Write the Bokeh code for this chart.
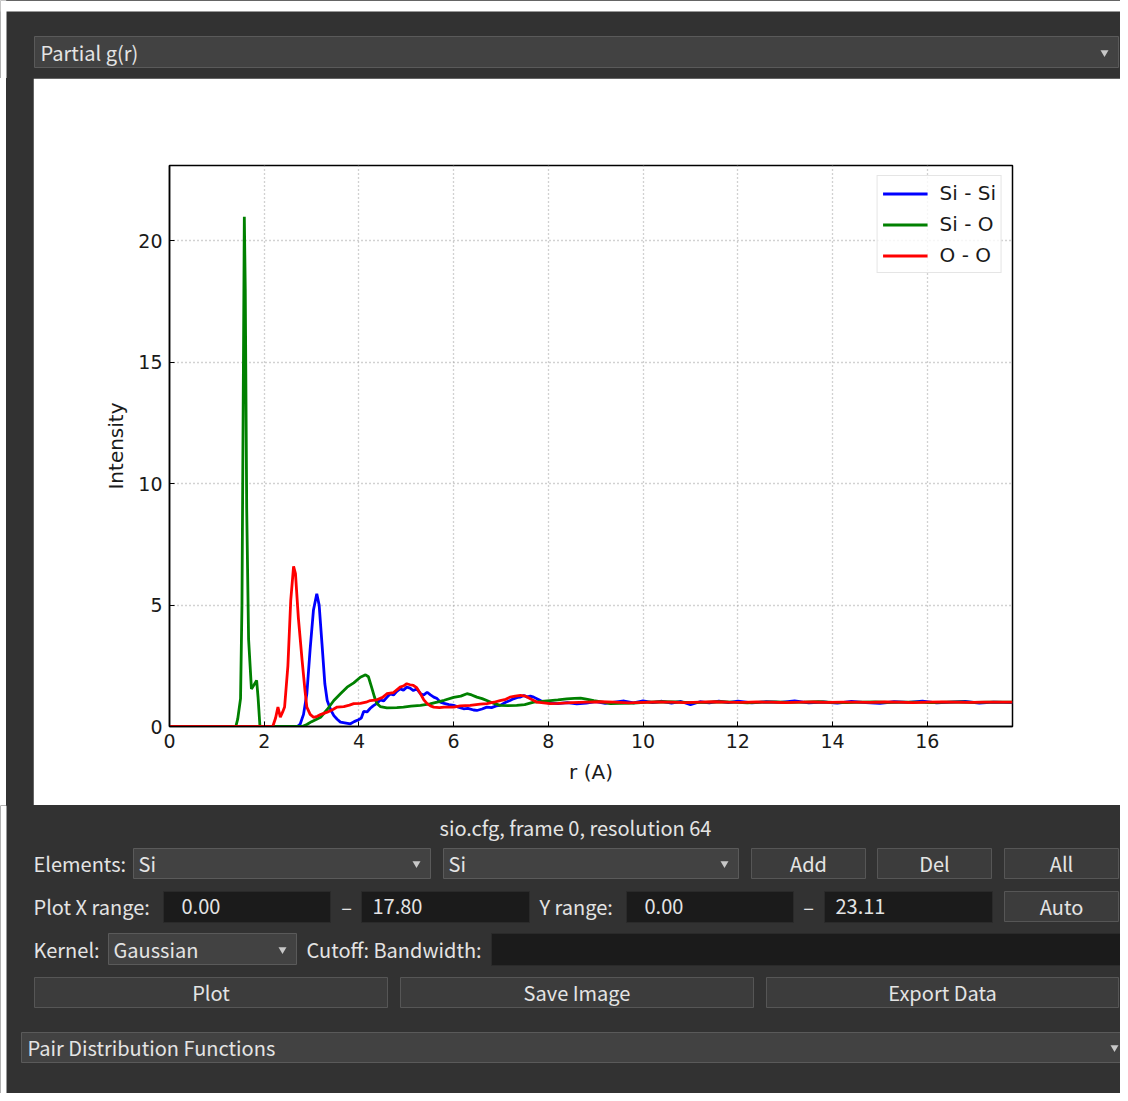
from bokeh.plotting import figure
from bokeh.layouts import column, row
from bokeh.models import Range1d, Legend, LegendItem
from bokeh.core.properties import value
from bokeh.embed import file_html
from bokeh.resources import INLINE

# ---------------- chart data ----------------
series_names = ["Si - Si", "Si - O", "O - O"]

r_sisi = [0, 2.70, 2.76, 2.83, 2.90, 2.97, 3.04, 3.11, 3.16, 3.22, 3.28, 3.33, 3.40, 3.47, 3.54,
          3.61, 3.70, 3.82, 3.90, 3.99, 4.05, 4.10, 4.17, 4.24, 4.30, 4.38, 4.45, 4.52, 4.59, 4.66,
          4.73, 4.80, 4.87, 4.94, 5.01, 5.08, 5.15, 5.22, 5.30, 5.37, 5.44, 5.51, 5.58, 5.65, 5.72,
          5.80, 5.90, 6.00, 6.10, 6.21, 6.30, 6.42, 6.49, 6.60, 6.70, 6.80, 6.90, 6.98, 7.10, 7.19,
          7.26, 7.35, 7.41, 7.48, 7.55, 7.62, 7.69, 7.80, 7.90,
          8.0, 8.2, 8.4, 8.6, 8.8, 9.0, 9.2, 9.4, 9.6, 9.8, 10.0, 10.2, 10.4, 10.6, 10.8, 11.0, 11.2,
          11.4, 11.6, 11.8, 12.0, 12.3, 12.6, 12.9, 13.2, 13.5, 13.8, 14.1, 14.4, 14.7, 15.0, 15.3,
          15.6, 15.9, 16.2, 16.5, 16.8, 17.1, 17.4, 17.8]
g_sisi = [0, 0, 0.10, 0.50, 1.35, 3.20, 4.80, 5.47, 5.00, 3.40, 1.76, 1.07, 0.70, 0.45, 0.30,
          0.18, 0.15, 0.11, 0.20, 0.28, 0.35, 0.62, 0.60, 0.75, 0.85, 0.95, 1.10, 1.05, 1.20, 1.35,
          1.30, 1.45, 1.55, 1.50, 1.62, 1.58, 1.48, 1.55, 1.35, 1.30, 1.41, 1.30, 1.21, 1.15, 1.00,
          0.95, 0.90, 0.87, 0.80, 0.73, 0.75, 0.68, 0.66, 0.72, 0.80, 0.78, 0.85, 0.87, 1.00, 1.07,
          1.14, 1.20, 1.21, 1.28, 1.22, 1.25, 1.21, 1.10, 1.00,
          0.97, 0.94, 0.98, 0.93, 0.96, 1.02, 0.95, 1.00, 1.05, 0.97, 1.06, 0.98, 1.04, 0.96, 1.03,
          0.90, 1.02, 0.97, 1.05, 0.98, 1.04, 0.97, 1.02, 0.99, 1.05, 0.97, 1.01, 0.96, 1.03, 0.98,
          0.95, 1.02, 0.99, 1.04, 0.97, 1.00, 1.03, 0.96, 1.00, 0.98]

r_sio = [0, 1.40, 1.44, 1.50, 1.53, 1.58, 1.60, 1.63, 1.67, 1.73, 1.78, 1.84, 1.87, 1.91, 2.80,
         2.90, 3.00, 3.19, 3.33, 3.47, 3.61, 3.75, 3.89, 4.03, 4.14, 4.20, 4.27, 4.33, 4.38, 4.45,
         4.59, 4.80, 4.94, 5.10, 5.30, 5.50, 5.65, 5.80, 6.00, 6.15, 6.28, 6.38, 6.49, 6.60, 6.70,
         6.85, 6.98, 7.15, 7.33, 7.50, 7.69, 7.85, 8.04, 8.20, 8.39, 8.55, 8.68, 8.80, 8.96, 9.15,
         9.31, 9.50, 9.80, 10.1, 10.4, 10.7, 11.0, 11.3, 11.6, 11.9, 12.2, 12.5, 12.8, 13.1, 13.4,
         13.7, 14.0, 14.3, 14.6, 14.9, 15.2, 15.5, 15.8, 16.1, 16.4, 16.7, 17.0, 17.3, 17.6, 17.8]
g_sio = [0, 0, 0.30, 1.15, 5.00, 21.0, 18.0, 9.00, 3.60, 1.55, 1.70, 1.90, 1.20, 0, 0,
         0.08, 0.20, 0.38, 0.70, 1.07, 1.35, 1.62, 1.80, 2.03, 2.13, 2.05, 1.60, 1.20, 0.95, 0.82,
         0.77, 0.78, 0.80, 0.84, 0.87, 0.93, 1.00, 1.08, 1.20, 1.25, 1.35, 1.30, 1.21, 1.15, 1.07,
         0.95, 0.87, 0.86, 0.87, 0.90, 1.00, 1.03, 1.07, 1.10, 1.14, 1.16, 1.17, 1.13, 1.07, 1.00,
         0.94, 0.95, 0.96, 1.00, 1.02, 1.01, 0.98, 0.99, 1.02, 1.00, 0.97, 1.00, 1.01, 0.99, 1.00,
         1.02, 0.99, 0.98, 1.00, 1.01, 0.99, 1.00, 1.00, 0.98, 1.00, 1.01, 0.99, 1.00, 1.00, 1.00]

r_oo = [0, 2.18, 2.24, 2.29, 2.34, 2.39, 2.43, 2.50, 2.56, 2.62, 2.66, 2.72, 2.80, 2.86, 2.90,
        2.97, 3.04, 3.12, 3.20, 3.33, 3.45, 3.54, 3.68, 3.80, 3.89, 4.03, 4.15, 4.24, 4.38, 4.50,
        4.59, 4.73, 4.87, 4.95, 5.01, 5.08, 5.15, 5.22, 5.30, 5.37, 5.44, 5.51, 5.58, 5.70, 5.80,
        6.00, 6.14, 6.35, 6.56, 6.70, 6.85, 6.98, 7.10, 7.19, 7.30, 7.41, 7.52, 7.62, 7.76, 7.90,
        8.04, 8.2, 8.5, 8.8, 9.1, 9.4, 9.7, 10.0, 10.3, 10.6, 10.9, 11.2, 11.5, 11.8, 12.1, 12.4,
        12.7, 13.0, 13.3, 13.6, 13.9, 14.2, 14.5, 14.8, 15.1, 15.4, 15.7, 16.0, 16.3, 16.6, 16.9,
        17.2, 17.5, 17.8]
g_oo = [0, 0, 0.35, 0.80, 0.38, 0.60, 0.80, 2.50, 5.20, 6.60, 6.30, 4.50, 2.72, 1.50, 0.80,
        0.50, 0.38, 0.42, 0.50, 0.59, 0.70, 0.80, 0.82, 0.88, 0.94, 0.95, 1.00, 1.07, 1.10, 1.20,
        1.35, 1.40, 1.62, 1.68, 1.76, 1.72, 1.69, 1.60, 1.35, 1.10, 0.94, 0.85, 0.80, 0.78, 0.80,
        0.80, 0.85, 0.87, 0.92, 0.94, 1.00, 1.07, 1.12, 1.21, 1.25, 1.28, 1.25, 1.14, 1.00, 0.97,
        0.94, 0.95, 0.98, 1.00, 1.02, 1.00, 0.97, 0.99, 1.01, 1.00, 0.98, 1.00, 1.02, 1.00, 0.99, 1.01,
        1.00, 0.98, 1.00, 1.01, 0.99, 1.00, 1.00, 0.99, 1.01, 1.00, 0.98, 1.00, 1.01, 1.00, 0.99,
        1.00, 1.00, 1.00]

x_ticks = [0, 2, 4, 6, 8, 10, 12, 14, 16]
y_ticks = [0, 5, 10, 15, 20]
x_min, x_max = 0.0, 17.80
y_min, y_max = 0.0, 23.11

# ---------------- GUI styling ----------------
BG = "#323232"
TXT = "#e4e4e4"
GUI_FONT = value("Noto Sans CJK JP")
GUI_FS = "20px"
COMBO_FILL = "#424242"
COMBO_LINE = "#5a5a5a"
FIELD_FILL = "#1b1b1b"
FIELD_LINE = "#2a2a2a"
BTN_FILL = "#3c3c3c"
BTN_LINE = "#565656"


def panel(w, h, x0, y0):
    f = figure(width=w, height=h, x_range=Range1d(x0, x0 + w), y_range=Range1d(y0 + h, y0),
               output_backend="svg", toolbar_location=None, x_axis_location=None,
               y_axis_location=None, min_border=0, background_fill_color=BG,
               border_fill_color=BG, outline_line_color=None)
    f.grid.visible = False
    return f


def box(f, l, r, t, b, fill, line):
    f.quad(left=[l], right=[r], top=[t], bottom=[b], fill_color=fill, line_color=line, line_width=1)


def label(f, x, y, s, align="left", color=TXT):
    f.text(x=[x], y=[y], text=[s], text_font=GUI_FONT, text_font_size=GUI_FS,
           text_baseline="middle", text_align=align, text_color=color)


def arrow(f, x, y):
    f.scatter(x=[x], y=[y], marker="inverted_triangle", size=8, fill_color="#c8c8c8",
              line_color=None)


# header: x 0..1120, y 0..78
head = panel(1120, 78, 0, 0)
box(head, 0, 1120, 0, 11, "white", None)
box(head, 0, 6, 0, 78, "white", None)
box(head, 34, 1118, 36, 67, COMBO_FILL, COMBO_LINE)
label(head, 40, 52, "Partial g(r)")
arrow(head, 1104, 52)

# footer: y 805..1093
foot = panel(1120, 288, 0, 805)
box(foot, 0, 6, 805, 1093, "white", None)
label(foot, 575, 827, "sio.cfg, frame 0, resolution 64", align="center")
# row 1
label(foot, 33, 863, "Elements:")
box(foot, 133, 430, 848, 878, COMBO_FILL, COMBO_LINE)
label(foot, 138, 863, "Si")
arrow(foot, 416, 863)
box(foot, 443, 738, 848, 878, COMBO_FILL, COMBO_LINE)
label(foot, 448, 863, "Si")
arrow(foot, 724, 863)
for (l, r, s) in [(751, 865, "Add"), (877, 991, "Del"), (1004, 1118, "All")]:
    box(foot, l, r, 848, 878, BTN_FILL, BTN_LINE)
    label(foot, (l + r) / 2, 863, s, align="center")
# row 2
label(foot, 33, 906, "Plot X range:")
box(foot, 163, 330, 891, 922, FIELD_FILL, FIELD_LINE)
label(foot, 181, 906, "0.00")
label(foot, 346, 906, "\u2013", align="center")
box(foot, 361, 529, 891, 922, FIELD_FILL, FIELD_LINE)
label(foot, 372, 906, "17.80")
label(foot, 539, 906, "Y range:")
box(foot, 626, 793, 891, 922, FIELD_FILL, FIELD_LINE)
label(foot, 644, 906, "0.00")
label(foot, 808, 906, "\u2013", align="center")
box(foot, 824, 992, 891, 922, FIELD_FILL, FIELD_LINE)
label(foot, 835, 906, "23.11")
box(foot, 1004, 1118, 891, 921, BTN_FILL, BTN_LINE)
label(foot, 1061, 906, "Auto", align="center")
# row 3
label(foot, 33, 949, "Kernel:")
box(foot, 108, 296, 933, 964, COMBO_FILL, COMBO_LINE)
label(foot, 113, 949, "Gaussian")
arrow(foot, 282, 949)
label(foot, 306, 949, "Cutoff:  Bandwidth:")
box(foot, 491, 1120, 933, 965, FIELD_FILL, FIELD_LINE)
# row 4
for (l, r, s) in [(34, 387, "Plot"), (400, 753, "Save Image"), (766, 1118, "Export Data")]:
    box(foot, l, r, 977, 1007, BTN_FILL, BTN_LINE)
    label(foot, (l + r) / 2, 992, s, align="center")
# bottom combo
box(foot, 21, 1120, 1032, 1062, COMBO_FILL, COMBO_LINE)
label(foot, 27, 1047, "Pair Distribution Functions")
arrow(foot, 1114, 1047)

# ---------------- the chart (white area x 33..1120, y 78..805) ----------------
p = figure(width=1087, height=727, x_range=Range1d(x_min, x_max), y_range=Range1d(y_min, y_max),
           output_backend="svg", toolbar_location=None,
           min_border_left=136, min_border_right=108, min_border_top=87, min_border_bottom=79,
           background_fill_color="white", border_fill_color="white")
p.margin = (0, 0, 0, 33)
p.outline_line_color = "black"
p.outline_line_width = 1.5

colors = ["#0000ff", "#008000", "#ff0000"]
renderers = []
for (xs, ys, c) in [(r_sisi, g_sisi, colors[0]), (r_sio, g_sio, colors[1]), (r_oo, g_oo, colors[2])]:
    renderers.append(p.line(xs, ys, line_color=c, line_width=2.8))

p.xaxis.ticker = x_ticks
p.yaxis.ticker = y_ticks
for ax in (p.xaxis[0], p.yaxis[0]):
    ax.major_tick_in = 5
    ax.major_tick_out = 0
    ax.minor_tick_line_color = None
    ax.axis_line_color = "black"
    ax.axis_line_width = 1.5
    ax.major_tick_line_color = "black"
    ax.major_label_text_font = "DejaVu Sans"
    ax.major_label_text_font_size = "19px"
    ax.major_label_text_color = "#1a1a1a"
    ax.axis_label_text_font = "DejaVu Sans"
    ax.axis_label_text_font_size = "20px"
    ax.axis_label_text_font_style = "normal"
    ax.axis_label_text_color = "#1a1a1a"
p.xaxis.axis_label = "r (A)"
p.yaxis.axis_label = "Intensity"
p.xaxis.major_label_standoff = 7
p.yaxis.major_label_standoff = 7
p.xaxis.axis_label_standoff = 9
p.yaxis.axis_label_standoff = 7

p.grid.grid_line_color = "#a4a4a4"
p.grid.grid_line_dash = "1 3"
p.grid.grid_line_width = 1.3

legend = Legend(items=[LegendItem(label=n, renderers=[r]) for n, r in zip(series_names, renderers)],
                location="top_right", margin=10, padding=5, spacing=7,
                glyph_width=45, glyph_height=21, label_height=21, label_standoff=12,
                label_text_font="DejaVu Sans", label_text_font_size="20px",
                label_text_color="#1a1a1a", border_line_color="#cccccc",
                background_fill_alpha=0.8)
p.add_layout(legend, "center")

middle = row(p, spacing=0)
layout = column(head, middle, foot, spacing=0,
                styles={"background": "linear-gradient(to right, #ffffff 0px, #ffffff 6px, #323232 6px)"})
open("out.html", "w").write(file_html(layout, INLINE))
